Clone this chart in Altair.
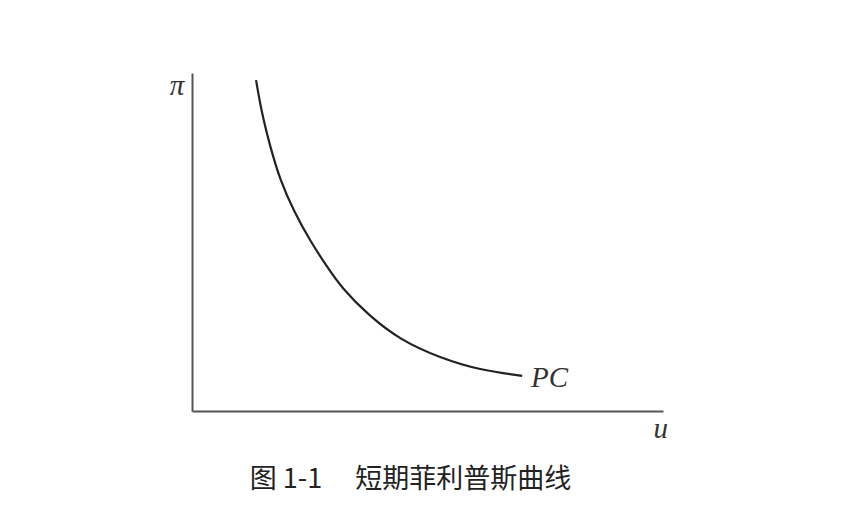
import altair as alt
import pandas as pd

# curve points (u = unemployment, pi = inflation)
u_vals = [1.36, 1.48, 1.66, 1.87, 2.17, 2.51, 2.87, 3.18, 3.74, 4.42, 5.27, 6.11, 7.01]
pi_vals = [9.79, 8.82, 7.82, 6.83, 5.89, 5.03, 4.26, 3.64, 2.84, 2.10, 1.57, 1.21, 1.04]

label_texts = ["π", "u", "PC"]
label_x = [-0.47, 9.8, 7.2]
label_y = [9.62, -0.52, 0.98]

caption = "图 1-1　 短期菲利普斯曲线"
caption_x = [4.64]
caption_y = [-2.05]

curve = pd.DataFrame({"u": u_vals, "pi": pi_vals, "order": list(range(len(u_vals)))})
labels = pd.DataFrame({"t": label_texts, "x": label_x, "y": label_y})
cap = pd.DataFrame({"t": [caption], "x": caption_x, "y": caption_y})

xs = alt.Scale(domain=[0, 10], nice=False, zero=False)
ys = alt.Scale(domain=[0, 10], nice=False, zero=False)

axis_style = dict(domain=True, domainColor="#555555", domainWidth=2, ticks=False,
                  labels=False, grid=False, title=None)

line = alt.Chart(curve).mark_line(color="#222222", strokeWidth=2.2, interpolate="basis").encode(
    x=alt.X("u:Q", scale=xs, axis=alt.Axis(**axis_style)),
    y=alt.Y("pi:Q", scale=ys, axis=alt.Axis(**axis_style)),
    order="order:O",
)

lab = alt.Chart(labels).mark_text(
    font="Liberation Serif", fontStyle="italic", fontSize=29, color="#333333",
    align="left", baseline="middle"
).encode(x=alt.X("x:Q", scale=xs), y=alt.Y("y:Q", scale=ys), text="t:N")

capt = alt.Chart(cap).mark_text(
    font="Noto Sans CJK SC", fontSize=27, color="#222222", align="center", baseline="middle"
).encode(x=alt.X("x:Q", scale=xs), y=alt.Y("y:Q", scale=ys), text="t:N")

chart = alt.layer(line, lab, capt).properties(
    width=471, height=338,
    background="white",
    autosize=alt.AutoSizeParams(type="none"),
    padding={"left": 184, "top": 65, "right": 180, "bottom": 100},
).configure_view(strokeWidth=0, stroke="transparent")

chart.save("out.html", embed_options={"renderer": "svg", "actions": False})
